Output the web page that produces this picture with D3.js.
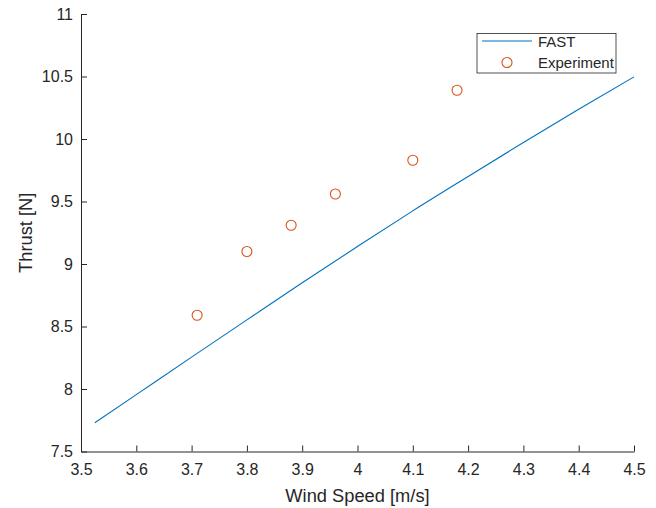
<!doctype html>
<html lang="en">
<head>
<meta charset="utf-8">
<title>Thrust vs wind speed</title>
<script src="https://cdn.jsdelivr.net/npm/d3@7"></script>
<style>
  body { margin: 0; background: #fff; }
  svg text { font-family: "Liberation Sans", Arial, sans-serif; fill: #262626; }
</style>
</head>
<body>
<svg id="chart"></svg>
<script>
// FAST simulation curve
var fastSpeed  = [3.525, 3.6, 3.7, 3.8, 3.9, 4.0, 4.1, 4.2, 4.3, 4.4, 4.5];
var fastThrust = [7.73, 7.955, 8.255, 8.553, 8.85, 9.14, 9.425, 9.70, 9.972, 10.238, 10.497];

// experiment points
var expSpeed  = [3.71, 3.80, 3.88, 3.96, 4.10, 4.18];
var expThrust = [8.59, 9.10, 9.31, 9.56, 9.83, 10.39];

var xTicks = [3.5, 3.6, 3.7, 3.8, 3.9, 4, 4.1, 4.2, 4.3, 4.4, 4.5];
var yTicks = [7.5, 8, 8.5, 9, 9.5, 10, 10.5, 11];
var legendLabels = ["FAST", "Experiment"];

var W = 656, H = 508;
var margin = {top: 14, right: 22, bottom: 56.5, left: 81};
var width = W - margin.left - margin.right,
    height = H - margin.top - margin.bottom;

var blue = "#0072BD", orange = "#D95319", axisCol = "#262626";

var svg = d3.select("#chart").attr("width", W).attr("height", H);
var g = svg.append("g").attr("transform", "translate(" + margin.left + "," + margin.top + ")");

var x = d3.scaleLinear().domain([3.5, 4.5]).range([0, width]);
var y = d3.scaleLinear().domain([7.5, 11]).range([height, 0]);

// axes, ticks pointing inward
var xAxis = g.append("g").attr("transform", "translate(0," + height + ")")
  .call(d3.axisBottom(x).tickValues(xTicks).tickFormat(d3.format("")).tickSizeInner(-6).tickSizeOuter(0).tickPadding(12));
var yAxis = g.append("g")
  .call(d3.axisLeft(y).tickValues(yTicks).tickFormat(d3.format("")).tickSizeInner(-6).tickSizeOuter(0).tickPadding(8));

[xAxis, yAxis].forEach(function(a){
  a.select(".domain").attr("stroke", axisCol).attr("stroke-width", 1);
  a.selectAll(".tick line").attr("stroke", axisCol);
  a.selectAll(".tick text").attr("font-size", 16).attr("fill", axisCol);
});

// labels
svg.append("text")
  .attr("x", margin.left + width / 2).attr("y", 502)
  .attr("text-anchor", "middle").attr("font-size", 18.3)
  .text("Wind Speed [m/s]");
svg.append("text")
  .attr("transform", "translate(32," + (margin.top + height / 2) + ") rotate(-90)")
  .attr("text-anchor", "middle").attr("font-size", 18.3)
  .text("Thrust [N]");

// FAST line
var line = d3.line().curve(d3.curveMonotoneX)
  .x(function(d){ return x(d[0]); }).y(function(d){ return y(d[1]); });
g.append("path")
  .datum(d3.zip(fastSpeed, fastThrust))
  .attr("fill", "none").attr("stroke", blue).attr("stroke-width", 1.1)
  .attr("d", line);

// experiment markers
g.selectAll("circle.exp")
  .data(d3.zip(expSpeed, expThrust))
  .enter().append("circle")
  .attr("class", "exp")
  .attr("cx", function(d){ return x(d[0]); })
  .attr("cy", function(d){ return y(d[1]); })
  .attr("r", 5)
  .attr("fill", "none").attr("stroke", orange).attr("stroke-width", 1.1);

// legend
var lg = svg.append("g").attr("transform", "translate(477,33.5)");
lg.append("rect").attr("width", 139).attr("height", 39.5)
  .attr("fill", "#fff").attr("stroke", axisCol).attr("stroke-width", 0.8);
lg.append("line").attr("x1", 5).attr("x2", 55).attr("y1", 7.5).attr("y2", 7.5)
  .attr("stroke", blue).attr("stroke-width", 1.1);
lg.append("circle").attr("cx", 30).attr("cy", 29).attr("r", 5)
  .attr("fill", "none").attr("stroke", orange).attr("stroke-width", 1.1);
lg.selectAll("text.lab").data(legendLabels).enter().append("text")
  .attr("class", "lab")
  .attr("x", 61).attr("y", function(d, i){ return 13 + i * 21.5; })
  .attr("font-size", 15)
  .text(function(d){ return d; });
</script>
</body>
</html>
